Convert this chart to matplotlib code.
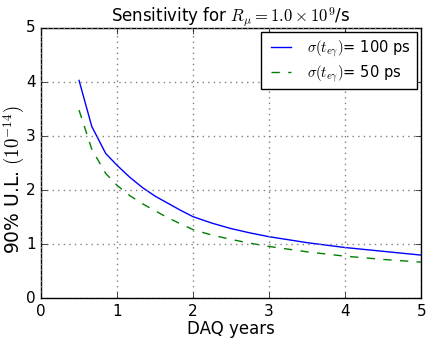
import matplotlib
matplotlib.use("Agg")
import matplotlib.pyplot as plt

# DAQ time in years
years = [0.5, 0.667, 0.85, 1.0, 1.167, 1.333, 1.5, 1.667, 1.833, 2.0,
         2.25, 2.5, 2.75, 3.0, 3.5, 4.0, 4.5, 5.0]

# 90% upper limit in units of 1e-14
ul_100ps = [4.03, 3.18, 2.68, 2.46, 2.24, 2.05, 1.89, 1.76, 1.63, 1.51,
            1.39, 1.29, 1.21, 1.14, 1.03, 0.94, 0.87, 0.80]
ul_50ps = [3.48, 2.76, 2.31, 2.09, 1.90, 1.75, 1.62, 1.49, 1.38, 1.27,
           1.17, 1.09, 1.02, 0.96, 0.86, 0.78, 0.72, 0.67]

labels = [r"$\sigma(t_{e\gamma})$= 100 ps", r"$\sigma(t_{e\gamma})$= 50 ps"]

plt.style.use("classic")
plt.rcParams["mathtext.fontset"] = "cm"

fig = plt.figure(figsize=(4.32, 3.41), dpi=100, facecolor="white")
ax = fig.add_axes([0.095, 0.125, 0.88, 0.793])

ax.plot(years, ul_100ps, "b-", lw=1, label=labels[0])
ax.plot(years, ul_50ps, "g--", lw=1, label=labels[1])

ax.set_xlim(0, 5)
ax.set_ylim(0, 5)
ax.set_xticks(range(0, 6))
ax.set_yticks(range(0, 6))
ax.tick_params(labelsize=11)
ax.grid(True, color="gray", linestyle=":", lw=1)

ax.set_xlabel("DAQ years", fontsize=12, labelpad=1)
ax.set_ylabel(r"90% U.L. $(10^{-14})$", fontsize=13.5)
ax.yaxis.set_label_coords(-0.038, 0.44)
ax.set_title(r"Sensitivity for $R_\mu=1.0\times10^9$/s", fontsize=12, y=0.995)

ax.legend(loc="upper right", fontsize=10.5, handlelength=2.0, borderaxespad=0.3,
          labelspacing=0.3, borderpad=0.4)

fig.savefig("out.png", dpi=100, facecolor="white")
